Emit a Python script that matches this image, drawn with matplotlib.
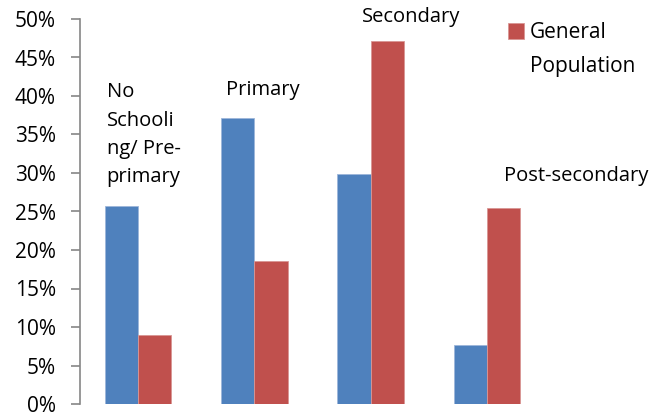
import matplotlib
matplotlib.use("Agg")
import matplotlib.pyplot as plt
from matplotlib.patches import Patch
from matplotlib.ticker import PercentFormatter
import numpy as np

plt.rcParams['font.family'] = ['Open Sans', 'DejaVu Sans']

categories = ["No\nSchooli\nng/ Pre-\nprimary", "Primary", "Secondary", "Post-secondary"]
sample = [25.7, 37.2, 29.9, 7.7]
general_pop = [9.0, 18.6, 47.2, 25.5]
yticks = np.arange(0, 51, 5)

blue = "#4F81BD"
red = "#C0504D"
axis_grey = "#868686"

fig = plt.figure(figsize=(6.7, 4.19), dpi=100)
ax = fig.add_axes([80 / 670, 15 / 419, 465 / 670, 385 / 419])

x = np.arange(len(categories))
w = 0.285
ax.bar(x - w / 2, sample, w, color=blue, edgecolor="#9DB6DA", linewidth=0.6)
red_bars = ax.bar(x + w / 2, general_pop, w, color=red, edgecolor="#D99694", linewidth=0.6)

ax.set_xlim(-0.5, 3.5)
ax.set_ylim(0, 50)
ax.set_yticks(yticks)
ax.yaxis.set_major_formatter(PercentFormatter(decimals=0))
ax.set_xticks([])

for side in ["top", "right", "bottom"]:
    ax.spines[side].set_visible(False)
ax.spines["left"].set_color(axis_grey)
ax.spines["left"].set_linewidth(1.2)
ax.tick_params(axis="y", length=6.5, width=1.2, color=axis_grey, pad=11,
               labelsize=15, labelcolor="black")

# category names sit above each group, placed by hand (y = last line baseline)
label_pos = [(-0.27, 28.8), (-0.245, 40.1), (-0.077, 49.6), (0.146, 28.9)]
for xi, (dx, y), name in zip(x, label_pos, categories):
    ax.text(xi + dx, y, name, ha="left", va="baseline", fontsize=14.5,
            linespacing=1.55, clip_on=False)

blank = Patch(facecolor="none", edgecolor="none")
fig.legend([red_bars, blank], ["General", "Population"], loc="upper left",
           bbox_to_anchor=(500 / 670, 1 - 14 / 419), frameon=False,
           fontsize=15, handlelength=0.75, handleheight=0.75,
           handletextpad=0.3, labelspacing=0.6, borderaxespad=0)

fig.savefig("out.png", dpi=100)
